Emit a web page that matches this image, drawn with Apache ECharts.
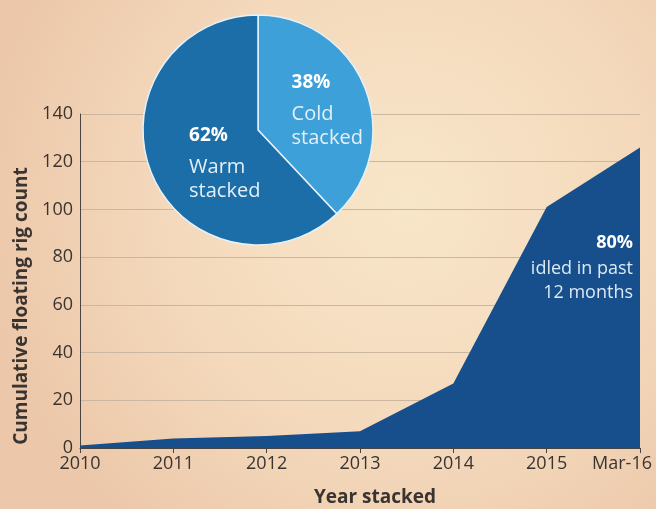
<!DOCTYPE html>
<html>
<head>
<meta charset="utf-8">
<script src="https://cdn.jsdelivr.net/npm/echarts@6/dist/echarts.min.js"></script>
<style>
  html, body { margin: 0; padding: 0; }
  #chart { width: 656px; height: 509px; }
</style>
</head>
<body>
<div id="chart"></div>
<script>
// Cumulative count of stacked floating rigs by year
const years = ['2010', '2011', '2012', '2013', '2014', '2015', 'Mar-16'];
const rigCount = [1, 4, 5, 7, 27, 101, 126];
const yTicks = [0, 20, 40, 60, 80, 100, 120, 140];

// Share of stacked rigs by status
const stackTypes = ['Cold\nstacked', 'Warm\nstacked'];
const stackShares = [38, 62];

const FONT = '"Open Sans", Roboto, sans-serif';
const TEXT = '#3a3431';

const chart = echarts.init(document.getElementById('chart'), null, { renderer: 'canvas' });

chart.setOption({
  animation: false,
  backgroundColor: {
    type: 'radial', x: 0.62, y: 0.4, r: 0.85,
    colorStops: [
      { offset: 0, color: '#f8e6c9' },
      { offset: 0.55, color: '#f4d9bc' },
      { offset: 1, color: '#ecc7a9' }
    ]
  },
  grid: { left: 80, right: 16, top: 114, bottom: 61, outerBoundsMode: 'none', containLabel: false },
  xAxis: {
    type: 'category',
    data: years,
    boundaryGap: false,
    name: 'Year stacked',
    nameLocation: 'middle',
    nameGap: 40,
    nameTextStyle: { fontFamily: FONT, fontSize: 19, fontWeight: 'bold', color: TEXT, padding: [0, 0, 0, 30] },
    axisLine: { lineStyle: { color: '#4a4440', width: 1 } },
    axisTick: { show: true, length: 5, lineStyle: { color: '#4a4440' } },
    axisLabel: {
      fontFamily: FONT, fontSize: 18, color: TEXT, margin: 7,
      interval: 0,
      hideOverlap: false,
      formatter: function (v, i) {
        return i === years.length - 1 ? '{last|' + v + '}' : v;
      },
      rich: {
        last: { fontFamily: FONT, fontSize: 18, color: TEXT, padding: [0, 36, 0, 0] }
      }
    }
  },
  yAxis: {
    type: 'value',
    min: 0, max: 140, interval: 20,
    name: 'Cumulative floating rig count',
    nameLocation: 'middle',
    nameGap: 49,
    nameTextStyle: { fontFamily: FONT, fontSize: 19, fontWeight: 'bold', color: TEXT, padding: [0, 50, 0, 0] },
    axisLine: { show: true, lineStyle: { color: '#4a4440', width: 1 } },
    axisTick: { show: false },
    axisLabel: {
      fontFamily: FONT, fontSize: 18, color: TEXT, margin: 7,
      formatter: function (v) { return yTicks.indexOf(v) >= 0 ? String(v) : ''; }
    },
    splitLine: { show: true, lineStyle: { color: '#cbb6a0', width: 1 } }
  },
  graphic: [
    {
      type: 'text',
      right: 23, top: 234,
      z: 10,
      style: {
        text: '{b|80%}\n{n|idled in past}\n{n|12 months}',
        align: 'right',
        fill: '#ffffff',
        rich: {
          b: { fontFamily: FONT, fontSize: 18, fontWeight: 'bold', fill: '#ffffff', lineHeight: 27, align: 'right' },
          n: { fontFamily: FONT, fontSize: 18, fill: '#dde9f4', lineHeight: 24, align: 'right' }
        }
      }
    }
  ],
  series: [
    {
      type: 'line',
      data: rigCount,
      symbol: 'none',
      lineStyle: { width: 0 },
      areaStyle: { color: '#164f8b', opacity: 1 },
      z: 3
    },
    {
      type: 'pie',
      center: [258, 130],
      radius: [0, 115],
      startAngle: 90,
      clockwise: true,
      z: 5,
      itemStyle: { borderColor: '#e6f2f8', borderWidth: 1.5 },
      data: stackShares.map(function (v, i) {
        return { value: v, name: stackTypes[i] };
      }),
      color: ['#3ea0d9', '#1b6ea8'],
      label: {
        show: true,
        position: 'inside',
        formatter: function (p) { return '{p|' + p.value + '%}\n{n|' + p.name + '}'; },
        align: 'left',
        rich: {
          p: { fontFamily: FONT, fontSize: 19, fontWeight: 'bold', color: '#ffffff', lineHeight: 40, align: 'left' },
          n: { fontFamily: FONT, fontSize: 20, color: '#e4f0f8', lineHeight: 24, align: 'left' }
        }
      },
      labelLine: { show: false },
      labelLayout: function (params) {
        return params.dataIndex === 0 ? { dx: 13, dy: -1 } : { dx: 23, dy: 7 };
      },
      emphasis: { disabled: true }
    }
  ]
});
</script>
</body>
</html>
